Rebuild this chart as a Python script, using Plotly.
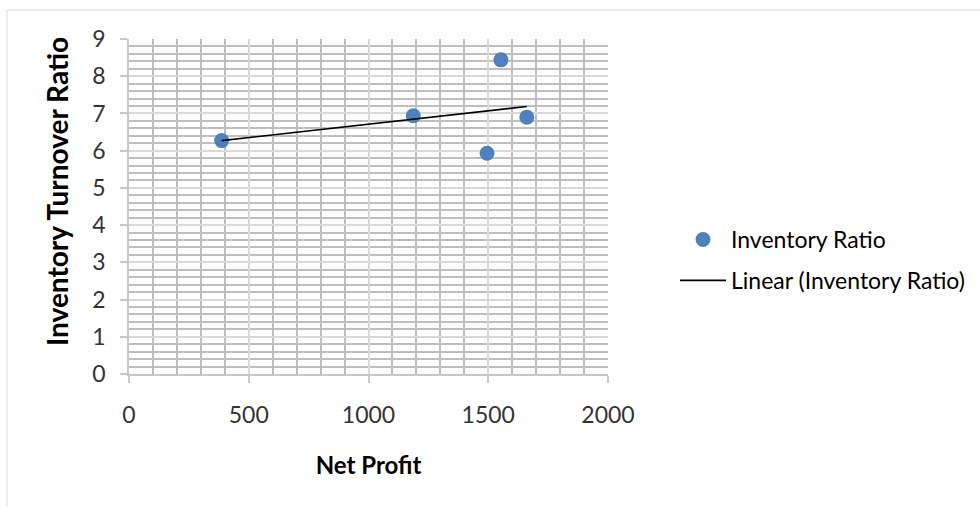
import numpy as np
import plotly.graph_objects as go

# Data
net_profit = [387, 1187, 1495, 1553, 1661]
inventory_ratio = [6.27, 6.94, 5.93, 8.44, 6.90]
x_ticks = [0, 500, 1000, 1500, 2000]
y_ticks = [0, 1, 2, 3, 4, 5, 6, 7, 8, 9]

# Linear trendline (least squares) from the data
slope, intercept = np.polyfit(net_profit, inventory_ratio, 1)
trend_x = [min(net_profit), max(net_profit)]
trend_y = [slope * v + intercept for v in trend_x]

W, H = 980, 507
L, R, T, B = 129, 372, 39, 133
pw, ph = W - L - R, H - T - B

def px_x(p):
    return (p - L) / pw

def px_y(p):
    return (H - B - p) / ph

FONT = "Lato, 'Open Sans', sans-serif"

fig = go.Figure()
fig.add_trace(go.Scatter(
    x=net_profit, y=inventory_ratio, mode="markers", name="Inventory Ratio",
    legendgroup="a",
    marker=dict(color="#4F81BD", size=15, line=dict(width=0)),
))
fig.add_trace(go.Scatter(
    x=trend_x, y=trend_y, mode="lines", name="Linear (Inventory Ratio)",
    legendgroup="b",
    line=dict(color="#000000", width=1.6),
))

axis_common = dict(
    showline=True, linecolor="#C8C8C8", linewidth=1.5,
    ticks="outside", tickcolor="#C8C8C8", ticklen=7, tickwidth=1.5,
    showgrid=True, gridcolor="#D9D9D9", gridwidth=1.6,
    zeroline=False, automargin=False,
    tickfont=dict(family=FONT, size=23, color="#333333"),
)

fig.update_layout(
    width=W, height=H,
    margin=dict(l=L, r=R, t=T, b=B, autoexpand=False),
    paper_bgcolor="white", plot_bgcolor="white",
    font=dict(family=FONT, color="#000000"),
    xaxis=dict(
        range=[0, 2000], tickvals=x_ticks, ticktext=[str(v) for v in x_ticks],
        minor=dict(dtick=100, tick0=0, showgrid=True, gridcolor="#BEBEBE", gridwidth=1.6, ticks=""),
        title=dict(text="<b>Net Profit</b>", font=dict(family=FONT, size=24), standoff=30),
        ticklabelstandoff=13,
        **axis_common,
    ),
    yaxis=dict(
        range=[0, 9], tickvals=y_ticks, ticktext=[str(v) for v in y_ticks],
        minor=dict(dtick=0.2, tick0=0, showgrid=True, gridcolor="#BEBEBE", gridwidth=1.6, ticks=""),
        ticklabelstandoff=10,
        **axis_common,
    ),
    annotations=[dict(
        text="<b>Inventory Turnover Ratio</b>", textangle=-90,
        xref="paper", yref="paper", x=px_x(57), y=px_y(192),
        xanchor="center", yanchor="middle", showarrow=False,
        font=dict(family=FONT, size=28, color="#000000"),
    )],
    legend=dict(
        xref="container", yref="container",
        x=675 / W, y=1 - 218 / H, xanchor="left", yanchor="top",
        font=dict(family=FONT, size=23, color="#000000"),
        itemwidth=46, tracegroupgap=8, bgcolor="rgba(0,0,0,0)",
    ),
    showlegend=True,
    shapes=[dict(
        type="rect", xref="paper", yref="paper",
        x0=px_x(7), x1=px_x(990), y0=px_y(520), y1=px_y(10),
        line=dict(color="#D9D9D9", width=1), fillcolor="rgba(0,0,0,0)", layer="below",
    )],
)

fig.write_html("out.html")
